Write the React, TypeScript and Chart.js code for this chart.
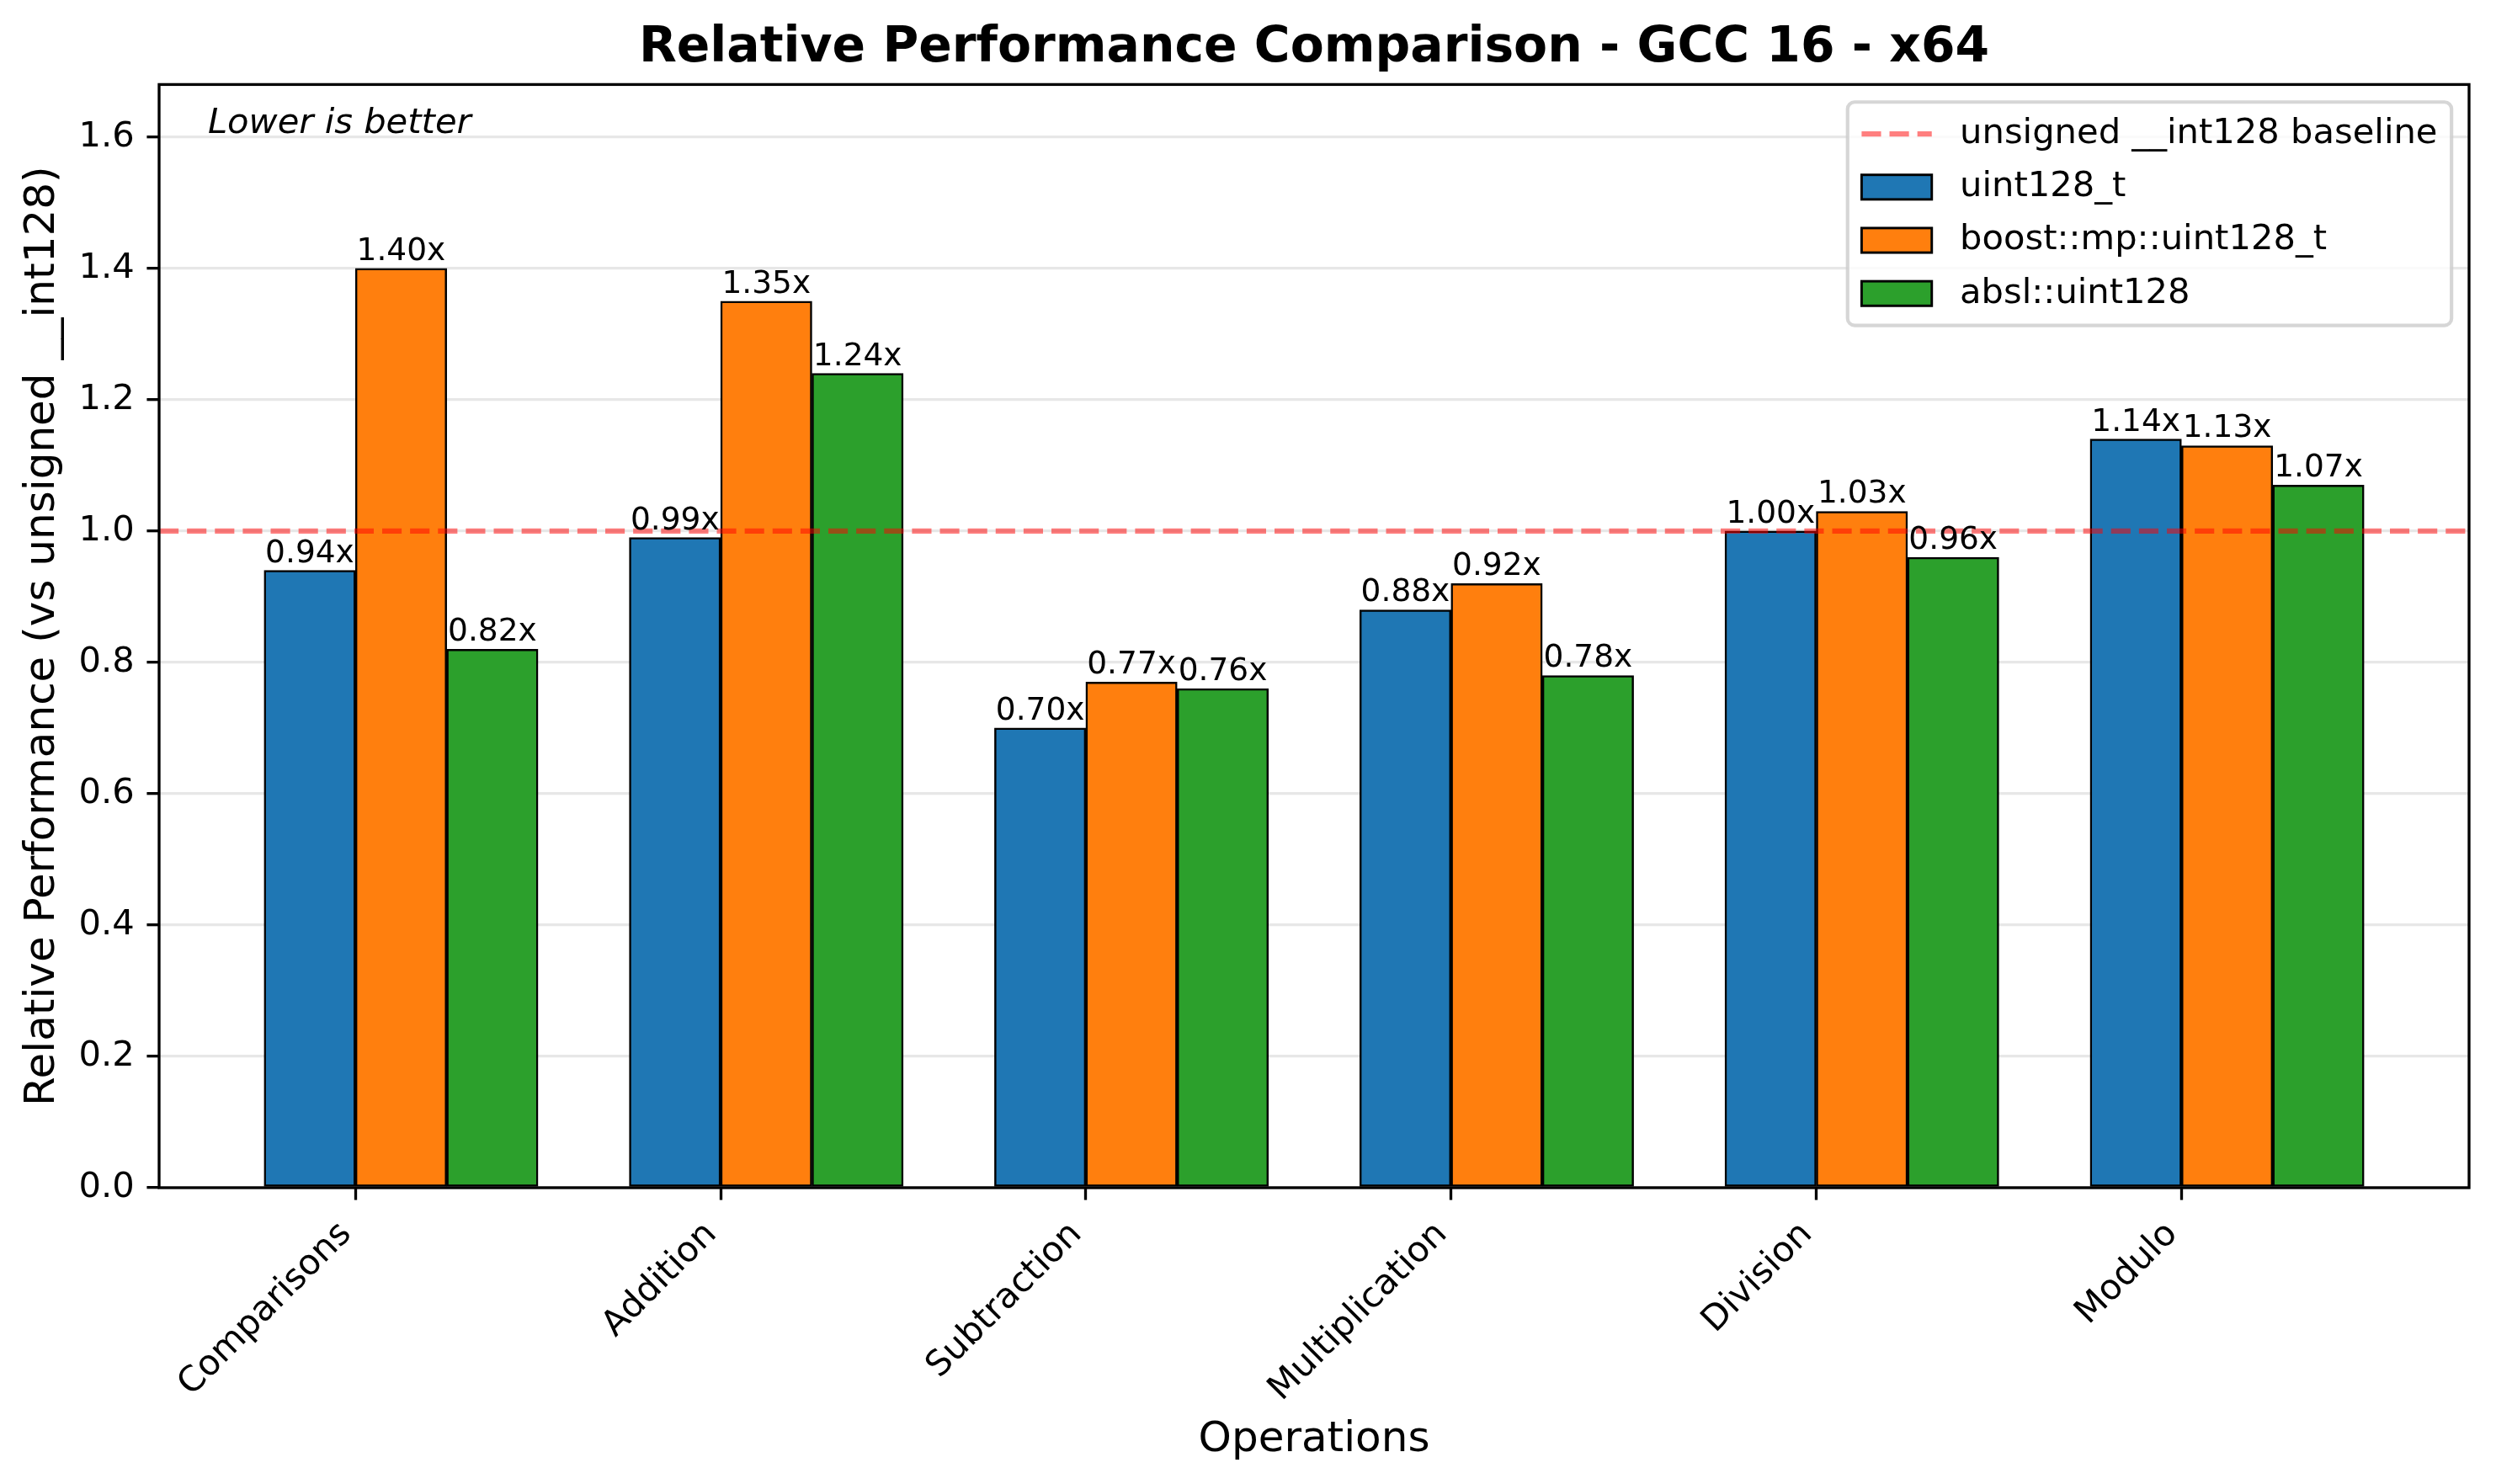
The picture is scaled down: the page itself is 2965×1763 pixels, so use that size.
import React, { useEffect, useRef } from "react";
import { Chart, registerables } from "chart.js";

Chart.register(...registerables);

// ---- data ----
const categories = ["Comparisons", "Addition", "Subtraction", "Multiplication", "Division", "Modulo"];
const seriesNames = ["uint128_t", "boost::mp::uint128_t", "absl::uint128"];
const uint128Values = [0.94, 0.99, 0.7, 0.88, 1.0, 1.14];
const boostValues = [1.4, 1.35, 0.77, 0.92, 1.03, 1.13];
const abslValues = [0.82, 1.24, 0.76, 0.78, 0.96, 1.07];
const baselineValue = 1.0;
const baselineLabel = "unsigned __int128 baseline";
const yTickValues = [0, 0.2, 0.4, 0.6, 0.8, 1.0, 1.2, 1.4, 1.6];
const yMax = 1.68;

const titleText = "Relative Performance Comparison - GCC 16 - x64";
const xTitle = "Operations";
const yTitle = "Relative Performance (vs unsigned __int128)";
const noteText = "Lower is better";

// ---- layout / style ----
const W = 2965;
const H = 1763;
const FONT = "'DejaVu Sans', sans-serif";
const seriesValues = [uint128Values, boostValues, abslValues];
const seriesColors = ["#1f77b4", "#ff7f0e", "#2ca02c"];
const BAR_WIDTH = 0.25;
const TICK_SHIFT = BAR_WIDTH / 2;
const dataLo = -BAR_WIDTH / 2;
const dataHi = categories.length - 1 + (seriesNames.length - 1) * BAR_WIDTH + BAR_WIDTH / 2;
const xPad = 0.05 * (dataHi - dataLo);
const X_MIN = dataLo - xPad;
const X_MAX = dataHi + xPad;

const PT = 300 / 72;
const TICK_FS = 10 * PT;
const LABEL_FS = 12 * PT;
const TITLE_FS = 14 * PT;
const VALUE_FS = 9 * PT;
const SPINE_W = 0.8 * PT;
const TICK_LEN = 3.5 * PT;
const BASE_COLOR = "rgba(255,0,0,0.5)";
const BASE_W = 1.5 * PT;
const BASE_DASH = [3.7 * 1.5 * PT, 1.6 * 1.5 * PT];

const annotations = {
  id: "annotations",
  afterDraw(chart: any) {
    const { ctx, chartArea: ca } = chart;
    ctx.save();

    // value labels above bars
    ctx.font = `${VALUE_FS}px ${FONT}`;
    ctx.fillStyle = "#000";
    ctx.textAlign = "center";
    ctx.textBaseline = "bottom";
    chart.data.datasets.forEach((ds: any, di: number) => {
      if (ds.type !== "bar") return;
      const meta = chart.getDatasetMeta(di);
      meta.data.forEach((el: any, i: number) => {
        const v = ds.data[i].y;
        ctx.fillText(`${v.toFixed(2)}x`, el.x, el.y - 1);
      });
    });

    // note in the upper left corner
    ctx.font = `italic ${TICK_FS}px ${FONT}`;
    ctx.textAlign = "left";
    ctx.textBaseline = "top";
    ctx.fillText(noteText, ca.left + 0.02 * ca.width + 3, ca.top + 0.02 * ca.height);

    // frame around the plot area
    ctx.strokeStyle = "#000";
    ctx.lineWidth = SPINE_W;
    ctx.strokeRect(ca.left, ca.top, ca.width, ca.height);

    // legend in the upper right corner
    const fs = TICK_FS;
    const pad = 0.4 * fs;
    const handleLen = 2 * fs;
    const textPad = 0.8 * fs;
    const pitch = 1.517 * fs;
    ctx.font = `${fs}px ${FONT}`;
    const items = chart.data.datasets.map((ds: any) => ds);
    let maxW = 0;
    items.forEach((ds: any) => {
      maxW = Math.max(maxW, ctx.measureText(ds.label).width);
    });
    const boxW = pad * 2 + handleLen + textPad + maxW;
    const boxH = pad * 2 + fs * 1.017 * items.length + 0.5 * fs * (items.length - 1);
    const bx = ca.right - 0.5 * fs - boxW;
    const by = ca.top + 0.5 * fs;
    const r = 0.2 * fs;
    ctx.beginPath();
    ctx.moveTo(bx + r, by);
    ctx.lineTo(bx + boxW - r, by);
    ctx.arcTo(bx + boxW, by, bx + boxW, by + r, r);
    ctx.lineTo(bx + boxW, by + boxH - r);
    ctx.arcTo(bx + boxW, by + boxH, bx + boxW - r, by + boxH, r);
    ctx.lineTo(bx + r, by + boxH);
    ctx.arcTo(bx, by + boxH, bx, by + boxH - r, r);
    ctx.lineTo(bx, by + r);
    ctx.arcTo(bx, by, bx + r, by, r);
    ctx.closePath();
    ctx.fillStyle = "rgba(255,255,255,0.8)";
    ctx.fill();
    ctx.strokeStyle = "rgba(204,204,204,0.8)";
    ctx.lineWidth = 1 * PT;
    ctx.stroke();

    items.forEach((ds: any, k: number) => {
      const cy = by + pad + 0.5 * fs * 1.017 + k * pitch;
      const hx = bx + pad;
      if (ds.type === "line") {
        ctx.save();
        ctx.strokeStyle = ds.borderColor;
        ctx.lineWidth = ds.borderWidth;
        ctx.setLineDash(ds.borderDash);
        ctx.beginPath();
        ctx.moveTo(hx, cy);
        ctx.lineTo(hx + handleLen, cy);
        ctx.stroke();
        ctx.restore();
      } else {
        const hh = 0.7 * fs;
        ctx.fillStyle = ds.backgroundColor;
        ctx.fillRect(hx, cy - hh / 2, handleLen, hh);
        ctx.strokeStyle = "#000";
        ctx.lineWidth = 0.7 * PT;
        ctx.strokeRect(hx, cy - hh / 2, handleLen, hh);
      }
      ctx.fillStyle = "#000";
      ctx.textAlign = "left";
      ctx.textBaseline = "middle";
      ctx.fillText(ds.label, hx + handleLen + textPad, cy);
    });

    ctx.restore();
  },
};

export default function App() {
  const canvasRef = useRef<HTMLCanvasElement>(null);

  useEffect(() => {
    document.body.style.margin = "0";
    const canvas = canvasRef.current;
    if (!canvas) return;

    Chart.defaults.font.family = FONT;
    Chart.defaults.color = "#000";

    const barDatasets = seriesNames.map((name, s) => ({
      type: "bar" as const,
      label: name,
      data: categories.map((_, i) => ({ x: i + s * BAR_WIDTH, y: seriesValues[s][i] })),
      backgroundColor: seriesColors[s],
      borderColor: "#000",
      borderWidth: 2.5,
      borderSkipped: false,
      grouped: false,
      categoryPercentage: 1,
      barPercentage: 1,
    }));

    const baselineDataset = {
      type: "line" as const,
      label: baselineLabel,
      data: [
        { x: X_MIN, y: baselineValue },
        { x: X_MAX, y: baselineValue },
      ],
      borderColor: BASE_COLOR,
      borderWidth: BASE_W,
      borderDash: BASE_DASH,
      pointRadius: 0,
      fill: false,
      tension: 0,
    };

    const chart = new Chart(canvas, {
      type: "bar",
      data: { datasets: [baselineDataset as any, ...barDatasets] },
      options: {
        responsive: false,
        devicePixelRatio: 1,
        animation: false,
        events: [],
        layout: { padding: { left: 0, right: 32, top: 0, bottom: 0 } },
        plugins: {
          legend: { display: false },
          tooltip: { enabled: false },
          title: {
            display: true,
            text: titleText,
            fullSize: false,
            color: "#000",
            font: { size: TITLE_FS, weight: "bold", family: FONT },
            padding: { top: 23, bottom: 7.4 },
          },
        },
        scales: {
          x: {
            type: "linear",
            min: X_MIN,
            max: X_MAX,
            bounds: "data",
            offset: false,
            afterBuildTicks: (s: any) => {
              s.ticks = categories.map((_, i) => ({ value: i + TICK_SHIFT }));
            },
            afterFit: (s: any) => {
              s.height = 352;
            },
            ticks: {
              autoSkip: false,
              minRotation: 45,
              maxRotation: 45,
              padding: TICK_LEN + 2,
              labelOffset: -11,
              color: "#000",
              font: { size: TICK_FS },
              callback: (_v: any, i: number) => categories[i],
            },
            grid: {
              display: true,
              drawOnChartArea: false,
              drawTicks: true,
              tickLength: TICK_LEN,
              tickWidth: SPINE_W,
              tickColor: "#000",
              offset: false,
            },
            border: { display: false },
            title: {
              display: true,
              text: xTitle,
              color: "#000",
              font: { size: LABEL_FS },
              padding: { top: 0, bottom: 22 },
            },
          },
          y: {
            type: "linear",
            min: 0,
            max: yMax,
            bounds: "data",
            z: 1,
            afterBuildTicks: (s: any) => {
              s.ticks = yTickValues.map((v) => ({ value: v }));
            },
            afterFit: (s: any) => {
              s.width = 189;
            },
            ticks: {
              padding: TICK_LEN,
              color: "#000",
              font: { size: TICK_FS },
              callback: (v: any) => Number(v).toFixed(1),
            },
            grid: {
              color: "rgba(176,176,176,0.3)",
              lineWidth: SPINE_W,
              drawTicks: true,
              tickLength: TICK_LEN,
              tickWidth: SPINE_W,
              tickColor: "#000",
            },
            border: { display: false },
            title: {
              display: true,
              text: yTitle,
              color: "#000",
              font: { size: LABEL_FS },
              padding: { top: 21, bottom: 0 },
            },
          },
        },
      },
      plugins: [annotations],
    } as any);

    return () => chart.destroy();
  }, []);

  return (
    <div style={{ width: W, height: H }}>
      <canvas ref={canvasRef} width={W} height={H} style={{ display: "block" }} />
    </div>
  );
}
